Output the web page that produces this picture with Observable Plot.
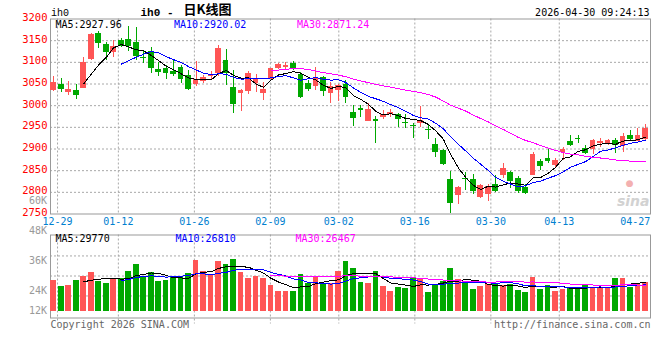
<!DOCTYPE html>
<html><head><meta charset="utf-8">
<script src="https://cdn.jsdelivr.net/npm/d3@7"></script>
<script src="https://cdn.jsdelivr.net/npm/@observablehq/plot@0.6"></script>
<style>
html,body{margin:0;padding:0;background:#fff;}
#chart{position:relative;width:660px;height:360px;overflow:hidden;background:#fff;}
#chart svg{position:absolute;left:0;top:0;}
</style></head><body><div id="chart"></div>
<script>
// ---- data ----
const dates = ["12-29","12-30","12-31","01-05","01-06","01-07","01-08","01-09","01-12","01-13",
"01-14","01-15","01-16","01-19","01-20","01-21","01-22","01-23","01-26","01-27",
"01-28","01-29","01-30","02-02","02-03","02-04","02-05","02-06","02-09","02-10",
"02-11","02-12","02-13","02-24","02-25","02-26","02-27","03-02","03-03","03-04",
"03-05","03-06","03-09","03-10","03-11","03-12","03-13","03-16","03-17","03-18",
"03-19","03-20","03-23","03-24","03-25","03-26","03-27","03-30","03-31","04-01",
"04-02","04-03","04-07","04-08","04-09","04-10","04-13","04-14","04-15","04-16",
"04-17","04-20","04-21","04-22","04-23","04-24","04-27","04-28","04-29","04-30"];
const open = [3034,3050,3031,3035,3040,3107,3167,3142,3123,3151, 3152,3146,3111,3124,3083,3085,3079,3087,3069,3049,
3055,3068,3074,3104,3042,3029,3033,3052,3028,3061, 3086,3088,3098,3073,3052,3044,3065,3028,3034,3048,
2985,2994,2964,2967,2973,2979,2979,2961,2955,2959, 2946,2910,2896,2829,2792,2831,2829,2788,2794,2818,
2838,2845,2831,2811,2839,2871,2878,2862,2893,2917, 2924,2901,2898,2912,2913,2919,2905,2931,2917,2923];
const high = [3067,3063,3055,3048,3112,3166,3171,3146,3150,3156, 3182,3180,3128,3135,3100,3092,3104,3092,3081,3102,
3070,3080,3139,3130,3082,3037,3078,3073,3054,3086, 3098,3100,3101,3076,3059,3088,3068,3054,3050,3058,
3000,3000,3004,2975,2988,2992,2981,2979,2958,2998, 2956,2925,2898,2848,2813,2846,2842,2817,2818,2838,
2867,2848,2837,2819,2892,2875,2898,2877,2903,2931, 2931,2908,2921,2925,2921,2925,2935,2942,2948,2956];
const low = [3032,3030,3023,3015,3039,3105,3133,3105,3112,3134, 3125,3105,3098,3075,3068,3060,3067,3052,3035,3044,
3052,3058,3067,3046,2982,2987,3025,3031,3012,3060, 3083,3081,3081,3017,3033,3036,3022,3005,3010,3006,
2951,2973,2964,2912,2969,2972,2950,2948,2925,2950, 2923,2881,2862,2751,2771,2804,2794,2785,2779,2800,
2831,2810,2798,2795,2838,2850,2867,2858,2874,2906, 2912,2888,2888,2904,2908,2890,2892,2919,2917,2919];
const close = [3053,3038,3037,3024,3100,3165,3144,3123,3136,3137, 3137,3113,3108,3085,3076,3074,3072,3061,3037,3060,
3066,3073,3132,3075,3003,3035,3075,3062,3037,3085, 3095,3092,3083,3019,3038,3063,3033,3045,3046,3020,
2971,2989,2991,2963,2979,2985,2967,2958,2952,2965, 2942,2892,2864,2775,2811,2829,2802,2815,2813,2802,
2854,2825,2802,2798,2888,2859,2871,2873,2900,2907, 2922,2889,2919,2918,2919,2908,2928,2921,2931,2948];
const volume = [31400,25300,26300,31400,35700,39500,30700,28300,32000,33400, 40500,47600,34100,39500,30400,31400,34100,34100,38500,51600,
40500,36400,50600,47600,52600,39500,33600,35400,33400,26300, 20200,20200,20200,37400,28500,34400,28000,28300,40500,50600,
43500,29300,28300,40500,25300,20200,24300,23300,33400,33400, 19200,27300,30400,43500,32400,29300,22300,25300,27300,27300,
26000,27300,21300,19200,34700,22600,26300,20500,22600,24600, 24600,26000,23300,23300,23300,33700,33700,24600,27300,29300];
const tickDates = ["12-29","01-12","01-26","02-09","03-02","03-16","03-30","04-13","04-27"];
const priceTicks = [3200,3150,3100,3050,3000,2950,2900,2850,2800,2750];
const volAxisLabels = ["60K","48K","36K","24K","12K"];
const volGrid = [15700, 35900, 56200];
const priceMALabels = ["MA5:2927.96","MA10:2920.02","MA30:2871.24"];
const volMALabels = ["MA5:29770","MA10:26810","MA30:26467"];
const maPeriods = [5, 10, 30];
const symbol = "ih0";
const titleText = "日K线图";
const stamp = "2026-04-30 09:24:13";
const copyright = "Copyright 2026 SINA.COM";
const url = "http://finance.sina.com.cn";

// ---- styles ----
const RED = "#ff5555", GREEN = "#00a800", GRID = "#a8a8a8", BORDER = "#999";
const MA_COLORS = ["#000000", "#0000ff", "#ff00ff"];
const MA_DX = [5, 123.5, 246.5];
const mono = "'DejaVu Sans Mono','Liberation Mono',monospace";
const crisp = "crispEdges";

const rows = dates.map((d, i) => ({i, date: d, open: open[i], high: high[i], low: low[i], close: close[i], vol: volume[i], up: close[i] >= open[i]}));
// Sina's date grid steps slightly wider than the candle step
const gridX = k => 0.5 + k * 1.015;
const ticks = tickDates.map(t => ({label: t, pos: gridX(dates.indexOf(t))}));
const xScale = {domain: [-0.44, 79.67], axis: null};
const colorOf = d => d.up ? RED : GREEN;
const dotted = {stroke: GRID, strokeDasharray: "2,2"};

const priceMarks = [
  Plot.ruleY(priceTicks.slice(1, -1), dotted),
  Plot.ruleX(ticks.slice(0, -1), {x: "pos", ...dotted}),
  Plot.frame({stroke: BORDER}),
  Plot.ruleX(rows, {x: "i", y1: "low", y2: "high", stroke: colorOf, shapeRendering: crisp}),
  Plot.rect(rows, {x1: d => d.i - 0.38, x2: d => d.i + 0.38, y1: "open", y2: "close", fill: colorOf, shapeRendering: crisp}),
  ...maPeriods.map((k, j) => Plot.lineY(rows, Plot.windowY({k, anchor: "end", strict: true}, {x: "i", y: "close", stroke: MA_COLORS[j], strokeWidth: 1, shapeRendering: crisp}))),
  Plot.axisY(priceTicks, {anchor: "left", tickSize: 0, tickPadding: 3, tickFormat: d => String(d), fill: "#ff0000", fontSize: 10.5, dy: -1.5, label: null}),
  Plot.text(ticks, {x: "pos", text: "label", frameAnchor: "bottom", dy: 8, lineAnchor: "middle", fill: "#0080d0"}),
  ...priceMALabels.map((t, j) => Plot.text([t], {text: d => d, frameAnchor: "top-left", dx: MA_DX[j], dy: 8.5, textAnchor: "start", lineAnchor: "bottom", fill: MA_COLORS[j]})),
  Plot.text([symbol], {text: d => d, frameAnchor: "top-left", dx: 0.5, dy: -3.5, textAnchor: "start", lineAnchor: "bottom", fontFamily: "'Liberation Mono',monospace"}),
  Plot.text([symbol + " -"], {text: d => d, frameAnchor: "top-left", dx: 90, dy: -3.5, textAnchor: "start", lineAnchor: "bottom", fontSize: 11, fontWeight: "bold", fontFamily: "'Liberation Mono',monospace"}),
  Plot.text([titleText], {text: d => d, frameAnchor: "top-left", dx: 133, dy: -5, textAnchor: "start", lineAnchor: "bottom", fontSize: 13, fontWeight: "bold", fontFamily: "'Noto Sans CJK SC',sans-serif"}),
  Plot.text([stamp], {text: d => d, frameAnchor: "top-right", dx: -1, dy: -3.5, textAnchor: "end", lineAnchor: "bottom"}),
  Plot.text(["●"], {text: d => d, frameAnchor: "bottom-right", dx: -17, dy: -28, fontSize: 9, fill: "#f3b0b0", fontFamily: "'DejaVu Sans',sans-serif"}),
  Plot.text(["sina"], {text: d => d, frameAnchor: "bottom-right", dx: -1, dy: -8, textAnchor: "end", lineAnchor: "bottom", fontSize: 14, fontWeight: "bold", fontStyle: "italic", fill: "#d2d2d2", fontFamily: "'DejaVu Sans',sans-serif"})
];

const price = Plot.plot({
  width: 660, height: 230,
  marginLeft: 50, marginRight: 10, marginTop: 18.5, marginBottom: 16.5,
  style: {fontFamily: mono, fontSize: "10px", background: "transparent", overflow: "visible"},
  x: xScale,
  y: {domain: [2750, 3200]},
  marks: priceMarks
});

const volMarks = [
  Plot.ruleY(volGrid, dotted),
  Plot.ruleX(ticks.slice(0, -1), {x: "pos", insetBottom: -6, ...dotted}),
  Plot.frame({stroke: BORDER}),
  Plot.rect(rows, {x1: d => d.i - 0.38, x2: d => d.i + 0.38, y1: () => 0, y2: "vol", fill: colorOf, shapeRendering: crisp}),
  ...maPeriods.map((k, j) => Plot.lineY(rows, Plot.windowY({k, anchor: "end", strict: true}, {x: "i", y: "vol", stroke: MA_COLORS[j], strokeWidth: 1, shapeRendering: crisp}))),
  ...volAxisLabels.map((t, j) => Plot.text([t], {text: d => d, frameAnchor: "top-left", dx: -3.5, dy: Math.min(-34.2 + 30 * j, 76.2), textAnchor: "end", lineAnchor: "middle", fill: "#999"})),
  ...volMALabels.map((t, j) => Plot.text([t], {text: d => d, frameAnchor: "top-left", dx: MA_DX[j] + (j ? 1.5 : 0) - (j === 2 ? 3 : 0), dy: 7.3, textAnchor: "start", lineAnchor: "bottom", fill: MA_COLORS[j]})),
  Plot.text([copyright], {text: d => d, frameAnchor: "bottom-left", dx: 0, dy: 9.5, textAnchor: "start", lineAnchor: "bottom", fill: "#666"}),
  Plot.text([url], {text: d => d, frameAnchor: "bottom-right", dx: 0, dy: 9.5, textAnchor: "end", lineAnchor: "bottom", fill: "#666"})
];

const vol = Plot.plot({
  width: 660, height: 360,
  marginLeft: 50, marginRight: 10, marginTop: 234.5, marginBottom: 42.5,
  style: {fontFamily: mono, fontSize: "10px", background: "transparent", overflow: "visible"},
  x: xScale,
  y: {domain: [-6600, 77400], axis: null},
  marks: volMarks
});

const host = document.getElementById("chart");
host.appendChild(vol);
host.appendChild(price);
</script>
</body></html>
